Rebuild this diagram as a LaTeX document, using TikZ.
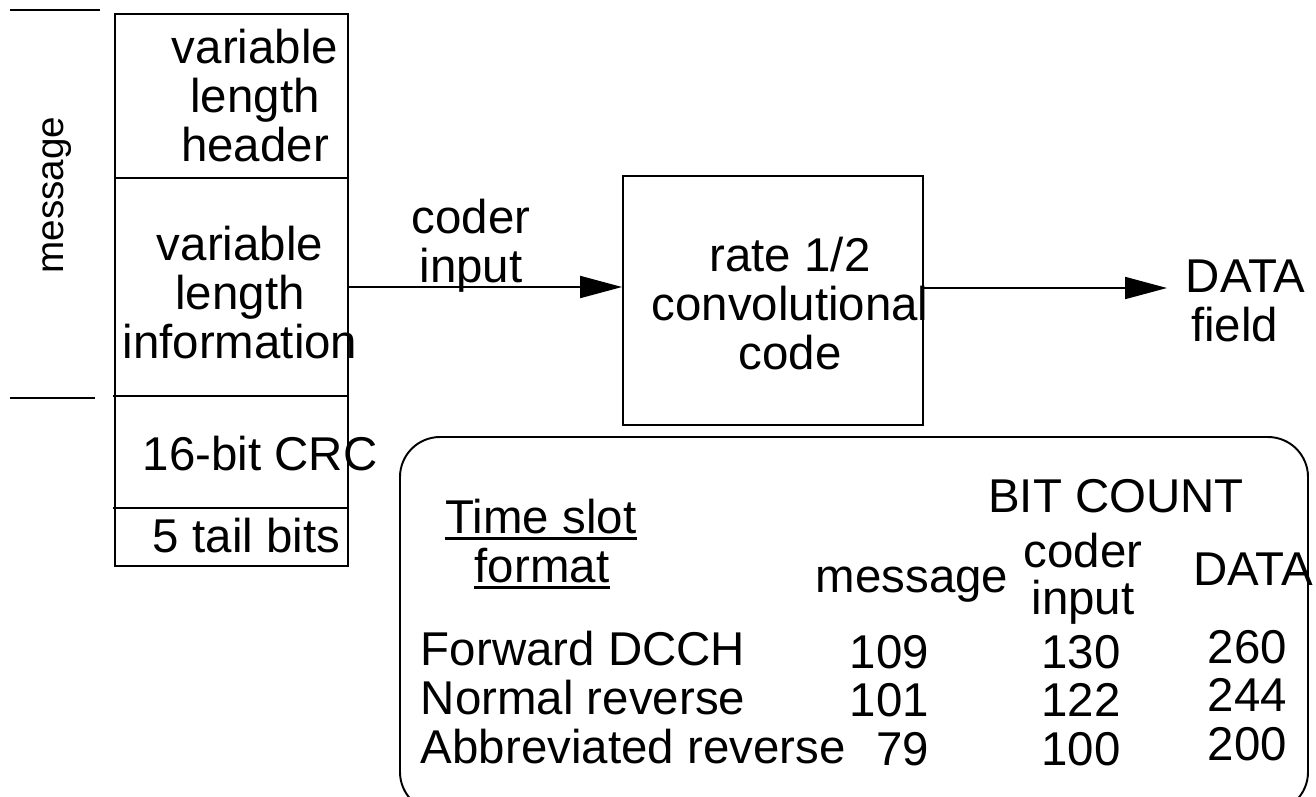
\documentclass[tikz,border=0pt]{standalone}
\usepackage{fontspec}
\setmainfont{Liberation Sans}
\usetikzlibrary{arrows.meta}

\newcommand{\stack}[2][c]{\begin{tabular}[t]{@{}#1@{}}#2\end{tabular}}

\begin{document}
\begin{tikzpicture}[x=0.02cm, y=-0.02cm, line width=1.1pt,
    lbl/.style={inner sep=0pt, anchor=base, font=\fontsize{27}{27.8}\selectfont},
    flow/.style={-{Triangle[length=0.84cm, width=0.44cm]}},
    uline/.style={line width=2pt}]
    \useasboundingbox (0,0) rectangle (1316,796);

    % Message fields
    \draw (115,14) rectangle (348,566);
    \draw (115,178) -- (348,178);
    \draw (113,396) -- (348,396);
    \draw (113,508) -- (348,508);
    \draw[line width=0.8pt] (10,10) -- (100,10);
    \draw[line width=0.8pt] (10,398) -- (95,398);
    \node[rotate=90, inner sep=0pt, font=\fontsize{22}{22}\selectfont] (msg) at (57,195) {message};
    \node[lbl] (hdr) at (255,63) {\stack{variable\\length\\header}};
    \node[lbl] (info) at (240,260) {\stack{variable\\length\\information}};
    \node[lbl, anchor=base west] (crc) at (142,470) {16-bit CRC};
    \node[lbl, anchor=base west] (tail) at (152,552) {5 tail bits};

    % Coder
    \node[draw, minimum width=6cm, minimum height=4.98cm, inner sep=0pt] (conv) at (773,300.5) {};
    \node[lbl] (convtxt) at (790,271) {\stack{rate 1/2\\convolutional\\code}};
    \coordinate (cout) at (348,287);
    \draw[flow] (cout) -- (cout -| conv.west);
    \node[lbl] (cin) at (471,233) {\stack{coder\\input}};
    \coordinate (dout) at (1167,288);
    \draw[flow] (conv.east |- dout) -- (dout);
    \node[lbl, anchor=base west] (dfield) at (1185,292) {\stack[l]{DATA\\\hspace{3pt}field}};

    % Bit count table
    \draw[rounded corners=0.8cm] (400,437) rectangle (1308,812);
    \node[lbl] (tslot) at (541,533) {Time slot};
    \node[lbl] (tfmt) at (542,582) {format};
    \draw[uline] ([yshift=-3.2pt]tslot.base west) -- ([yshift=-3.2pt]tslot.base east);
    \draw[uline] ([yshift=-3.2pt]tfmt.base west) -- ([yshift=-3.2pt]tfmt.base east);
    \node[lbl] (bitc) at (1116,512) {BIT COUNT};
    \node[lbl] (hmsg) at (912,592) {message};
    \node[lbl, font=\fontsize{27}{24.5}\selectfont] (hcin) at (1083,567) {\stack{coder\\input}};
    \node[lbl] (hdata) at (1253,585) {DATA};
    \node[lbl, anchor=base west] (rows) at (420,665) {\stack[l]{Forward DCCH\\Normal reverse\\Abbreviated reverse}};
    \node[lbl, anchor=base east] (cmsg) at (930,668) {\stack[r]{109\\101\\79}};
    \node[lbl] (ccin) at (1081,668) {\stack{130\\122\\100}};
    \node[lbl, anchor=base east] (cdata) at (1288,663) {\stack[r]{260\\244\\200}};
\end{tikzpicture}
\end{document}
